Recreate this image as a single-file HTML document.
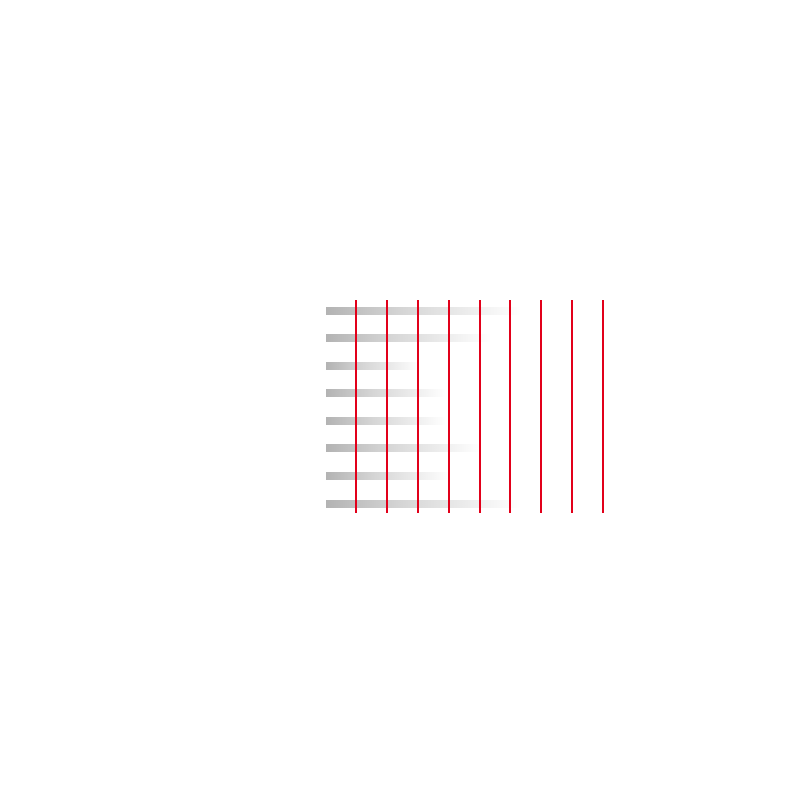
<!DOCTYPE html>
<html><head><style>
body{margin:0;width:800px;height:800px;background:#fff;position:relative;overflow:hidden}
.b{position:absolute;left:326px;height:8px;background:linear-gradient(to right,#b3b3b3,#d6d6d6 40%,rgba(255,255,255,0))}
.r{position:absolute;top:300px;height:213px;width:2px;background:#e2001a}
</style></head><body>
<div class="b" style="top:307px;width:195px"></div>
<div class="b" style="top:334px;width:165px"></div>
<div class="b" style="top:362px;width:95px"></div>
<div class="b" style="top:389px;width:120px"></div>
<div class="b" style="top:417px;width:120px"></div>
<div class="b" style="top:444px;width:155px"></div>
<div class="b" style="top:472px;width:125px"></div>
<div class="b" style="top:500px;width:195px"></div>
<div class="r" style="left:355px"></div>
<div class="r" style="left:386px"></div>
<div class="r" style="left:417px"></div>
<div class="r" style="left:448px"></div>
<div class="r" style="left:479px"></div>
<div class="r" style="left:509px"></div>
<div class="r" style="left:540px"></div>
<div class="r" style="left:571px"></div>
<div class="r" style="left:602px"></div>
</body></html>
